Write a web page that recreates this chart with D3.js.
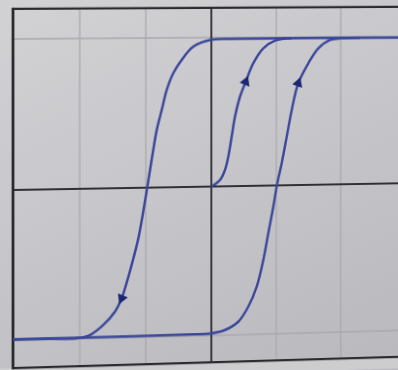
<!DOCTYPE html>
<html>
<head>
<meta charset="utf-8">
<script src="https://cdn.jsdelivr.net/npm/d3@7"></script>
<style>
  html, body { margin: 0; padding: 0; }
  body {
    width: 398px; height: 370px; overflow: hidden; position: relative;
    background: linear-gradient(155deg, #d2d2d5 0%, #c7c7cb 45%, #b8b8bd 100%);
  }
  /* photo was taken at a slight angle: right side is farther away */
  #chart {
    position: absolute; left: 0; top: 0;
    transform-origin: 13px -71px;
    transform: matrix3d(1,0,0,0.0000666, 0,1,0,0, 0,0,1,0, 0,0,0,1);
    filter: blur(0.7px);
  }
</style>
</head>
<body>
<div id="chart"></div>
<script>
// Hysteresis loop (values in grid units)
const descX = [2.95, 0.3, 0.0, -0.276, -0.454, -0.582, -0.682, -0.758, -0.834, -0.887, -0.936, -0.975, -1.039, -1.113, -1.215, -1.316, -1.366, -1.467, -1.645, -1.845, -2.045, -2.5, -3.0];
const descY = [0.99, 0.99, 0.985, 0.94, 0.851, 0.763, 0.651, 0.518, 0.385, 0.251, 0.118, 0.011, -0.160, -0.337, -0.514, -0.669, -0.735, -0.823, -0.910, -0.974, -0.994, -0.99, -0.99];

const ascX = [-3.0, -1.5, -0.3, 0.0, 0.209, 0.413, 0.567, 0.697, 0.799, 0.876, 0.954, 1.013, 1.084, 1.161, 1.239, 1.340, 1.496, 1.651, 1.833, 2.016, 2.3];
const ascY = [-0.99, -0.99, -0.988, -0.985, -0.965, -0.912, -0.813, -0.679, -0.501, -0.322, -0.143, 0.009, 0.149, 0.327, 0.507, 0.687, 0.821, 0.922, 0.978, 0.988, 0.99];

// initial magnetisation curve from the origin
const initX = [0.0, 0.133, 0.209, 0.260, 0.312, 0.363, 0.440, 0.528, 0.645, 0.799, 0.981, 1.239];
const initY = [0.0, 0.043, 0.110, 0.199, 0.333, 0.467, 0.601, 0.701, 0.825, 0.925, 0.976, 0.991];

// where the direction arrows sit
const arrowBranch = ["desc", "asc", "init"];
const arrowX = [-1.366, 1.340, 0.528];

// grid lines
const xGrid = [-2, -1, 1, 2];
const yGrid = [-1, 1];

const width = 420, height = 380;
const frameTop = 1.2, frameBottom = -1.18, frameLeft = -3;

const x = d3.scaleLinear().domain([-3, 2.9]).range([13, 13 + 5.9 * 67]);
const y = d3.scaleLinear().domain([-1, 1]).range([341, 39]);

const svg = d3.select("#chart").append("svg")
    .attr("width", width)
    .attr("height", height);

// paper below the frame is a bit lighter
svg.append("rect")
    .attr("x", 0).attr("y", y(frameBottom))
    .attr("width", width).attr("height", height - y(frameBottom))
    .attr("fill", "#cdcdd0");

// grid
svg.selectAll(".vgrid").data(xGrid).enter().append("line")
    .attr("x1", d => x(d)).attr("x2", d => x(d))
    .attr("y1", y(frameTop)).attr("y2", y(frameBottom))
    .attr("stroke", "#a9a9ae").attr("stroke-width", 1.3);

svg.selectAll(".hgrid").data(yGrid).enter().append("line")
    .attr("x1", x(frameLeft)).attr("x2", width)
    .attr("y1", d => y(d)).attr("y2", d => y(d))
    .attr("stroke", "#a9a9ae").attr("stroke-width", 1.3);

// axes through the origin
svg.append("line")
    .attr("x1", x(frameLeft)).attr("x2", width)
    .attr("y1", y(0)).attr("y2", y(0))
    .attr("stroke", "#2f2f34").attr("stroke-width", 1.9);
svg.append("line")
    .attr("x1", x(0)).attr("x2", x(0))
    .attr("y1", y(frameTop)).attr("y2", y(frameBottom))
    .attr("stroke", "#2f2f34").attr("stroke-width", 1.9);

// frame
svg.append("line")
    .attr("x1", x(frameLeft)).attr("x2", width)
    .attr("y1", y(frameTop)).attr("y2", y(frameTop))
    .attr("stroke", "#2a2a2f").attr("stroke-width", 2.2);
svg.append("line")
    .attr("x1", x(frameLeft)).attr("x2", width)
    .attr("y1", y(frameBottom)).attr("y2", y(frameBottom))
    .attr("stroke", "#2a2a2f").attr("stroke-width", 2.2);
svg.append("line")
    .attr("x1", x(frameLeft)).attr("x2", x(frameLeft))
    .attr("y1", y(frameTop) - 1).attr("y2", y(frameBottom) + 1)
    .attr("stroke", "#2a2a2f").attr("stroke-width", 2.8);

// curves
const branches = {
    desc: descX.map((d, i) => [d, descY[i]]),
    asc: ascX.map((d, i) => [d, ascY[i]]),
    init: initX.map((d, i) => [d, initY[i]])
};

const line = d3.line()
    .x(d => x(d[0]))
    .y(d => y(d[1]))
    .curve(d3.curveCatmullRom.alpha(0.5));

Object.keys(branches).forEach(k => {
    svg.append("path")
        .datum(branches[k])
        .attr("fill", "none")
        .attr("stroke", "#3b4799")
        .attr("stroke-width", 2.5)
        .attr("stroke-linejoin", "round")
        .attr("d", line);
});

// direction arrows
const tri = d3.symbol().type(d3.symbolTriangle).size(52);
arrowBranch.forEach((b, j) => {
    const pts = branches[b];
    const i = pts.findIndex(p => p[0] === arrowX[j]);
    const p = pts[i], a = pts[i - 1], c = pts[i + 1];
    const dx = x(c[0]) - x(a[0]), dy = y(c[1]) - y(a[1]);
    const ang = Math.atan2(dy, dx) * 180 / Math.PI + 90;
    svg.append("path")
        .attr("d", tri())
        .attr("fill", "#1d2674")
        .attr("transform", `translate(${x(p[0])},${y(p[1])}) rotate(${ang})`);
});
</script>
</body>
</html>
